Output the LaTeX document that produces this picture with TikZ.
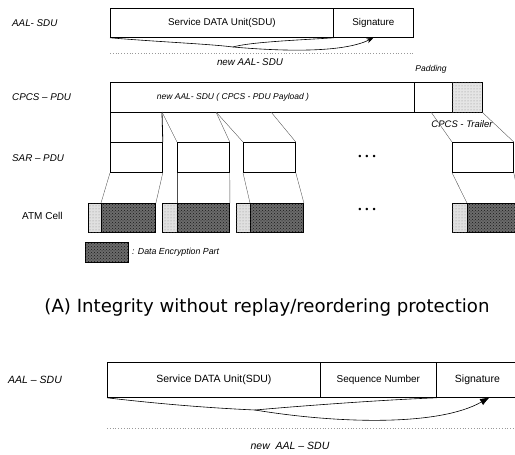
\documentclass[tikz,border=0pt]{standalone}
\usepackage{fontspec}
\setmainfont{Liberation Sans}
\newfontfamily\capfont{DejaVu Sans}
\usetikzlibrary{arrows.meta,patterns}
\begin{document}
\begin{tikzpicture}[x=1pt,y=-1pt,
  box/.style={draw, line width=0.8pt, inner sep=0pt, anchor=north west, font=\fontsize{9.8}{11}\selectfont},
  rowlbl/.style={anchor=west, inner sep=0pt, font=\fontsize{9.8}{11}\selectfont\itshape},
  smalllbl/.style={inner sep=0pt, font=\fontsize{8}{9}\selectfont\itshape},
  darkpart/.style={draw, line width=0.9pt, inner sep=0pt, anchor=north west, fill=black!58,
     postaction={pattern=crosshatch dots, pattern color=black!90}},
  lightpart/.style={draw, line width=0.9pt, inner sep=0pt, anchor=north west, fill=black!12,
     postaction={pattern=dots, pattern color=black!45}},
  thin/.style={draw=black!70, line width=0.35pt},
  dotline/.style={draw=black!40, line width=0.6pt, dash pattern=on 0.8pt off 2pt},
  dotsym/.style={inner sep=0pt, font=\fontsize{9}{10}\selectfont}
]
\useasboundingbox (0,0) rectangle (515,455);

% ---------------- top part ----------------
\node[rowlbl] (l1) at (12,23) {AAL- SDU};
\node[box, minimum width=223pt, minimum height=29pt] (sdu) at (110,8) {Service DATA Unit(SDU)};
\node[box, minimum width=80pt, minimum height=29pt] (sig) at (333,8) {Signature};
\coordinate (m1) at (233,47);
\draw[line width=0.6pt] (sdu.south west) .. controls (160,42) and (210,44) .. (m1);
\draw[line width=0.6pt] (sdu.south east) .. controls (300,40) and (250,42) .. (m1);
\draw[line width=0.6pt, -{Stealth[length=7pt,width=5pt]}] (m1) .. controls (290,52) and (345,52) .. (sig.south);
\coordinate (d1a) at (110,53);
\coordinate (d1b) at (415,53);
\draw[dotline] (d1a) -- (d1b);
\node[smalllbl, font=\fontsize{9.8}{11}\selectfont\itshape] (n1) at (250,62) {new AAL- SDU};

\node[rowlbl] (l2) at (12,97) {CPCS – PDU};
\node[box, minimum width=304pt, minimum height=30pt] (pay) at (110,82) {};
\node[smalllbl, font=\fontsize{8.5}{10}\selectfont\itshape] (payl) at (233,97) {new AAL- SDU ( CPCS - PDU Payload )};
\node[box, minimum width=38pt, minimum height=30pt] (pad) at (414,82) {};
\node[box, minimum width=30pt, minimum height=30pt, fill=black!10, postaction={pattern=dots, pattern color=black!45}] (tr) at (452,82) {};
\node[smalllbl, font=\fontsize{8.5}{10}\selectfont\itshape] (padl) at (431,69) {Padding};
\node[smalllbl, font=\fontsize{9.5}{11}\selectfont\itshape] (trl) at (462,124) {CPCS - Trailer};

\coordinate (p1) at (110,112);
\coordinate (p2) at (162,112);
\coordinate (p3) at (216,112);
\coordinate (p4) at (271,112);
\coordinate (p5) at (431,112);
\coordinate (p6) at (482,112);

\node[rowlbl] (l3) at (12,158) {SAR – PDU};
\node[box, minimum width=52pt, minimum height=30pt] (s1) at (110,142) {};
\node[box, minimum width=52pt, minimum height=30pt] (s2) at (177,142) {};
\node[box, minimum width=52pt, minimum height=30pt] (s3) at (243,142) {};
\node[box, minimum width=61pt, minimum height=30pt] (s4) at (452,142) {};
\node[dotsym] (dots1) at (367,157) {\textbullet\hspace{4pt}\textbullet\hspace{4pt}\textbullet};

\draw[line width=0.8pt] (p1) -- (s1.north west);
\draw[line width=0.8pt] (p2) -- (s1.north east);
\draw[thin] (p2) -- (s2.north west);
\draw[thin] (p3) -- (s2.north east);
\draw[thin] (p3) -- (s3.north west);
\draw[thin] (p4) -- (s3.north east);
\draw[thin] (p5) -- (s4.north west);
\draw[thin] (p6) -- (s4.north east);

\node[anchor=west, inner sep=0pt, font=\fontsize{10}{11}\selectfont] (l4) at (22,216) {ATM Cell};
\node[lightpart, minimum width=13pt, minimum height=29pt] (a1l) at (88,203) {};
\node[darkpart, minimum width=54pt, minimum height=29pt] (a1d) at (101,203) {};
\node[lightpart, minimum width=15pt, minimum height=29pt] (a2l) at (162,203) {};
\node[darkpart, minimum width=52pt, minimum height=29pt] (a2d) at (177,203) {};
\node[lightpart, minimum width=14pt, minimum height=29pt] (a3l) at (236,203) {};
\node[darkpart, minimum width=53pt, minimum height=29pt] (a3d) at (250,203) {};
\node[lightpart, minimum width=15pt, minimum height=29pt] (a4l) at (452,203) {};
\node[darkpart, minimum width=52pt, minimum height=29pt] (a4d) at (467,203) {};
\node[dotsym] (dots2) at (367,210) {\textbullet\hspace{4pt}\textbullet\hspace{4pt}\textbullet};

\draw[thin] (s1.south west) -- (a1d.north west);
\draw[thin] (s1.south east) -- (a1d.north east);
\draw[thin] (s2.south west) -- (a2d.north west);
\draw[thin] (s2.south east) -- (a2d.north east);
\draw[thin] (s3.south west) -- (a3d.north west);
\draw[thin] (s3.south east) -- (a3d.north east);
\draw[thin] (s4.south west) -- (a4d.north west);
\draw[thin] (s4.south east) -- (a4d.north east);

\node[darkpart, minimum width=43pt, minimum height=20pt] (leg) at (85,242) {};
\node[anchor=west, inner sep=0pt, font=\fontsize{8.8}{10}\selectfont\itshape] (legt) at (132,252) {: Data Encryption Part};

\node[inner sep=0pt] (cap) at (267,307) {\resizebox{445pt}{!}{\capfont\fontsize{14}{16}\selectfont (A) Integrity without replay/reordering protection}};

% ---------------- bottom part ----------------
\node[rowlbl, font=\fontsize{10.5}{12}\selectfont\itshape] (l5) at (8,380) {AAL – SDU};
\node[box, minimum width=213pt, minimum height=35pt, font=\fontsize{10.5}{12}\selectfont] (sdu2) at (107,362) {Service DATA Unit(SDU)};
\node[box, minimum width=116pt, minimum height=35pt, font=\fontsize{10}{12}\selectfont] (seq) at (320,362) {Sequence Number};
\node[box, minimum width=82pt, minimum height=35pt, font=\fontsize{10.5}{12}\selectfont] (sig2) at (436,362) {Signature};
\coordinate (m2) at (255,410);
\coordinate (t2) at (490,397);
\draw[line width=0.6pt] (sdu2.south west) .. controls (160,404) and (210,408) .. (m2);
\draw[line width=0.6pt] (seq.south east) .. controls (380,400) and (300,406) .. (m2);
\draw[line width=0.6pt, -{Latex[length=10pt,width=7pt]}] (m2) .. controls (340,424) and (440,426) .. (t2);
\coordinate (d2a) at (107,428);
\coordinate (d2b) at (515,428);
\draw[dotline] (d2a) -- (d2b);
\node[smalllbl, font=\fontsize{10.5}{12}\selectfont\itshape] (n2) at (290,446) {new\ \ AAL – SDU};
\end{tikzpicture}
\end{document}
